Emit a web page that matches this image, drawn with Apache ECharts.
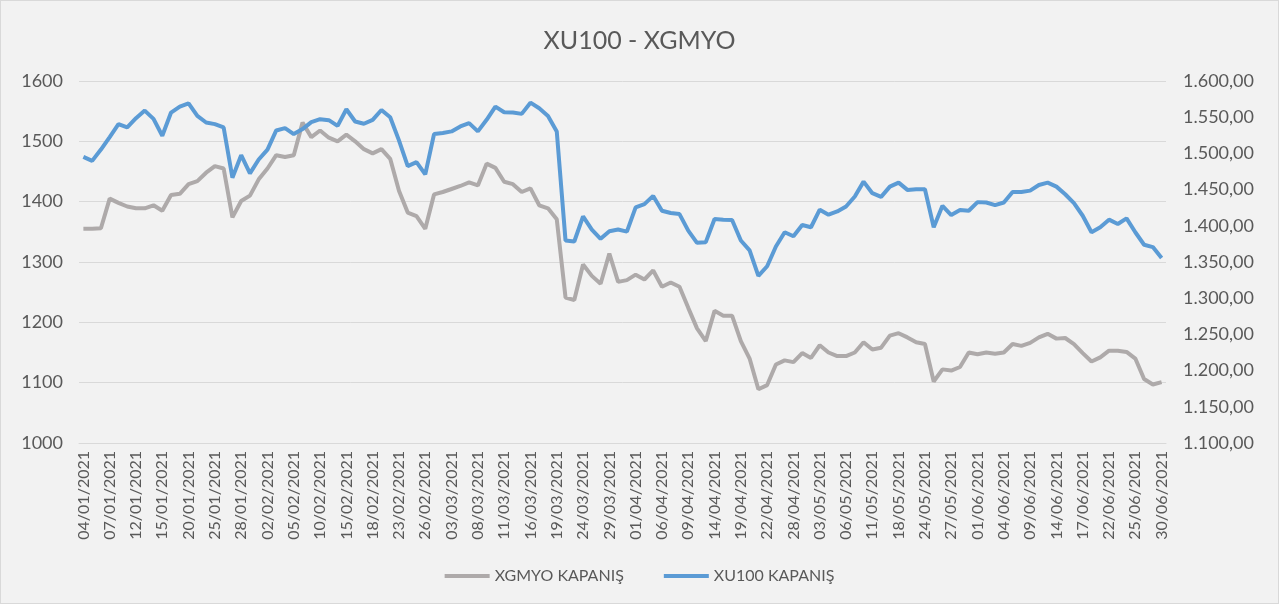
<!DOCTYPE html>
<html>
<head>
<meta charset="utf-8">
<title>XU100 - XGMYO</title>
<script src="https://cdn.jsdelivr.net/npm/echarts@6/dist/echarts.min.js"></script>
<style>
  html, body { margin: 0; padding: 0; background: #f2f2f2; }
  #main { width: 1279px; height: 604px; box-sizing: border-box; border: 1px solid #d9d9d9; }
</style>
</head>
<body>
<div id="main"></div>
<script>
// trading days, 04/01/2021 - 30/06/2021
var dates = [
  '04/01/2021','05/01/2021','06/01/2021','07/01/2021','08/01/2021','11/01/2021','12/01/2021','13/01/2021','14/01/2021','15/01/2021',
  '18/01/2021','19/01/2021','20/01/2021','21/01/2021','22/01/2021','25/01/2021','26/01/2021','27/01/2021','28/01/2021','29/01/2021',
  '01/02/2021','02/02/2021','03/02/2021','04/02/2021','05/02/2021','08/02/2021','09/02/2021','10/02/2021','11/02/2021','12/02/2021',
  '15/02/2021','16/02/2021','17/02/2021','18/02/2021','19/02/2021','22/02/2021','23/02/2021','24/02/2021','25/02/2021','26/02/2021',
  '01/03/2021','02/03/2021','03/03/2021','04/03/2021','05/03/2021','08/03/2021','09/03/2021','10/03/2021','11/03/2021','12/03/2021',
  '15/03/2021','16/03/2021','17/03/2021','18/03/2021','19/03/2021','22/03/2021','23/03/2021','24/03/2021','25/03/2021','26/03/2021',
  '29/03/2021','30/03/2021','31/03/2021','01/04/2021','02/04/2021','05/04/2021','06/04/2021','07/04/2021','08/04/2021','09/04/2021',
  '12/04/2021','13/04/2021','14/04/2021','15/04/2021','16/04/2021','19/04/2021','20/04/2021','21/04/2021','22/04/2021','26/04/2021',
  '27/04/2021','28/04/2021','29/04/2021','30/04/2021','03/05/2021','04/05/2021','05/05/2021','06/05/2021','07/05/2021','10/05/2021',
  '11/05/2021','12/05/2021','17/05/2021','18/05/2021','20/05/2021','21/05/2021','24/05/2021','25/05/2021','26/05/2021','27/05/2021',
  '28/05/2021','31/05/2021','01/06/2021','02/06/2021','03/06/2021','04/06/2021','07/06/2021','08/06/2021','09/06/2021','10/06/2021',
  '11/06/2021','14/06/2021','15/06/2021','16/06/2021','17/06/2021','18/06/2021','21/06/2021','22/06/2021','23/06/2021','24/06/2021',
  '25/06/2021','28/06/2021','29/06/2021','30/06/2021'
];

// XGMYO kapanış (sol eksen)
var xgmyo = [
  1355, 1355, 1356, 1405, 1398, 1392, 1389, 1389, 1394, 1385,
  1411, 1413, 1429, 1434, 1448, 1459, 1455, 1374, 1401, 1410,
  1437, 1455, 1477, 1474, 1477, 1531, 1507, 1518, 1506, 1500,
  1511, 1500, 1487, 1480, 1487, 1471, 1418, 1382, 1376, 1355,
  1412, 1416, 1421, 1426, 1432, 1427, 1463, 1456, 1433, 1429,
  1416, 1422, 1394, 1389, 1371, 1241, 1237, 1296, 1277, 1264,
  1314, 1267, 1270, 1279, 1271, 1286, 1259, 1266, 1259, 1224,
  1190, 1169, 1219, 1211, 1211, 1169, 1140, 1089, 1096, 1130,
  1137, 1134, 1149, 1141, 1162, 1150, 1144, 1144, 1150, 1167,
  1155, 1158, 1178, 1182, 1175, 1167, 1164, 1102, 1122, 1120,
  1126, 1150, 1147, 1150, 1148, 1150, 1164, 1161, 1166, 1175,
  1181, 1173, 1174, 1164, 1149, 1135, 1142, 1153, 1153, 1151,
  1140, 1106, 1097, 1101
];

// XU100 kapanış (sağ eksen)
var xu100 = [
  1495.2, 1489.7, 1505.3, 1522.6, 1540.4, 1535.8, 1548.6, 1559.1, 1547.7, 1524.4,
  1556.4, 1564.6, 1569.2, 1551.8, 1542.7, 1540.4, 1535.8, 1466.4, 1497.5, 1472.4,
  1491.6, 1505.3, 1531.7, 1535.0, 1526.7, 1533.6, 1543.2, 1547.3, 1545.9, 1538.1,
  1561.0, 1544.1, 1540.9, 1546.4, 1560.0, 1550.0, 1518.0, 1482.4, 1487.9, 1471.0,
  1526.7, 1528.1, 1530.4, 1537.2, 1541.8, 1530.4, 1546.4, 1564.6, 1556.8, 1556.4,
  1554.6, 1570.1, 1562.3, 1551.8, 1530.4, 1379.7, 1378.3, 1413.0, 1394.8, 1382.0,
  1392.5, 1394.8, 1392.0, 1425.4, 1429.9, 1441.3, 1420.8, 1417.6, 1416.2, 1393.4,
  1376.5, 1377.4, 1409.4, 1408.4, 1408.0, 1379.7, 1366.0, 1330.8, 1344.1, 1371.5,
  1391.1, 1385.6, 1401.1, 1398.0, 1422.2, 1415.3, 1419.9, 1426.7, 1440.4, 1461.0,
  1445.0, 1440.0, 1454.1, 1459.6, 1449.6, 1450.5, 1450.5, 1398.0, 1427.6, 1414.9,
  1421.7, 1420.8, 1432.7, 1432.2, 1428.6, 1432.2, 1446.8, 1446.8, 1448.6, 1456.4,
  1459.6, 1454.1, 1443.6, 1431.3, 1413.9, 1391.1, 1398.0, 1408.5, 1402.5, 1410.3,
  1391.1, 1373.8, 1370.6, 1355.5
];

var textColor = '#595959';
var fontName = 'Lato';

// 1600 -> "1.600,00"
function trFormat(v) {
  var p = v.toFixed(2).split('.');
  return p[0].replace(/\B(?=(\d{3})+(?!\d))/g, '.') + ',' + p[1];
}

var chart = echarts.init(document.getElementById('main'));

var option = {
  backgroundColor: '#f2f2f2',
  textStyle: { fontFamily: fontName },
  title: {
    text: 'XU100 - XGMYO',
    left: 'center',
    top: 22,
    textStyle: { color: textColor, fontSize: 25, fontWeight: 'normal', fontFamily: fontName }
  },
  legend: {
    bottom: 14,
    left: 'center',
    icon: 'rect',
    itemWidth: 45,
    itemHeight: 4,
    itemGap: 40,
    textStyle: { color: textColor, fontSize: 16, fontFamily: fontName },
    data: ['XGMYO KAPANIŞ', 'XU100 KAPANIŞ']
  },
  grid: { left: 78, right: 112, top: 80, bottom: 160 },
  xAxis: {
    type: 'category',
    data: dates,
    boundaryGap: true,
    axisLine: { lineStyle: { color: '#d9d9d9' } },
    axisTick: { show: false },
    axisLabel: {
      interval: 2,
      rotate: 90,
      margin: 8,
      color: textColor,
      fontSize: 16,
      fontFamily: fontName
    }
  },
  yAxis: [
    {
      type: 'value',
      min: 1000,
      max: 1600,
      interval: 100,
      axisLine: { show: false },
      axisTick: { show: false },
      splitLine: { lineStyle: { color: '#d9d9d9', width: 1 } },
      axisLabel: {
        color: textColor, fontSize: 18, margin: 16, fontFamily: fontName,
        formatter: function (v) { return String(v); }
      }
    },
    {
      type: 'value',
      min: 1100,
      max: 1600,
      interval: 50,
      axisLine: { show: false },
      axisTick: { show: false },
      splitLine: { show: false },
      axisLabel: {
        color: textColor, fontSize: 18, margin: 17, fontFamily: fontName,
        formatter: trFormat
      }
    }
  ],
  series: [
    {
      name: 'XGMYO KAPANIŞ',
      type: 'line',
      yAxisIndex: 0,
      data: xgmyo,
      symbol: 'none',
      lineStyle: { color: '#aeaaaa', width: 4 },
      itemStyle: { color: '#aeaaaa' }
    },
    {
      name: 'XU100 KAPANIŞ',
      type: 'line',
      yAxisIndex: 1,
      data: xu100,
      symbol: 'none',
      lineStyle: { color: '#5b9bd5', width: 4 },
      itemStyle: { color: '#5b9bd5' }
    }
  ]
};

chart.setOption(option);
</script>
</body>
</html>
